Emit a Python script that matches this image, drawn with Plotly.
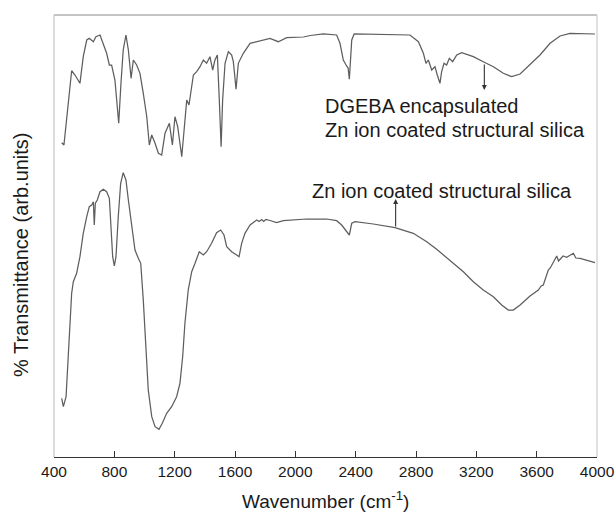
import plotly.graph_objects as go

# DGEBA encapsulated Zn ion coated structural silica (upper spectrum)
wn_top = [451, 466, 517, 539, 572, 594, 617, 634, 661, 678, 705, 727, 749, 767, 782, 804, 829, 844,
          859, 877, 893, 911, 926, 948, 970, 992, 1015, 1032, 1048, 1070, 1092, 1114, 1136, 1165,
          1185, 1202, 1220, 1247, 1262, 1280, 1295, 1324, 1346, 1368, 1390, 1412, 1434, 1452, 1467,
          1483, 1496, 1508, 1518, 1534, 1556, 1578, 1589, 1607, 1622, 1655, 1700, 1766, 1832, 1887,
          1943, 2053, 2100, 2186, 2274, 2296, 2318, 2340, 2350, 2358, 2366, 2374, 2390, 2583, 2760,
          2816, 2849, 2866, 2882, 2904, 2926, 2941, 2959, 2970, 2986, 3003, 3021, 3043, 3070, 3103,
          3180, 3246, 3313, 3379, 3434, 3490, 3556, 3622, 3689, 3755, 3821, 3910, 3987]
t_top = [314.3, 312, 386.3, 382, 373.7, 400.3, 417, 418.7, 415.3, 420.3, 422, 412, 403.7, 392, 392,
         377, 333.7, 373.7, 407, 422, 407, 378.7, 397, 392, 383.7, 363.7, 340.3, 312, 322, 313.7,
         303.7, 302, 323.7, 333.7, 312, 340.3, 330.3, 300.3, 330.3, 357, 352, 382, 385.3, 390.3,
         397, 393.7, 400.3, 387, 397, 402, 357, 310.3, 357, 393.7, 405.3, 402, 395.3, 367.7, 393.7,
         403.7, 413.7, 416.3, 418.7, 415.3, 419.3, 420, 421.5, 423, 422, 413.7, 397, 391, 389,
         377.7, 397, 417, 423, 422.7, 422, 415.3, 403.7, 393.7, 397, 387, 390.3, 382, 373.7, 385.3,
         393.7, 392, 398.7, 395.3, 402, 404.3, 400.3, 395.3, 390.3, 383.7, 380.3, 383, 392, 402,
         413.7, 421, 423.7, 423, 423]

# Zn ion coated structural silica (lower spectrum)
wn_bot = [451, 462, 480, 495, 517, 528, 550, 572, 594, 617, 634, 650, 661, 667, 674, 687, 705, 727,
          749, 767, 776, 789, 800, 811, 826, 842, 859, 877, 893, 915, 937, 959, 975, 992, 1010, 1025,
          1048, 1070, 1096, 1118, 1147, 1180, 1213, 1235, 1253, 1268, 1290, 1313, 1335, 1363, 1390,
          1412, 1445, 1478, 1505, 1527, 1545, 1578, 1611, 1627, 1644, 1666, 1700, 1744, 1760, 1777,
          1790, 1805, 1832, 1876, 1920, 2075, 2208, 2274, 2307, 2340, 2358, 2374, 2396, 2517, 2661,
          2782, 2871, 2937, 3025, 3114, 3180, 3246, 3313, 3368, 3412, 3445, 3490, 3556, 3611, 3630,
          3644, 3660, 3677, 3690, 3710, 3733, 3745, 3755, 3775, 3799, 3820, 3843, 3860, 3888, 3987]
t_bot = [58.7, 50.3, 60.3, 107, 163.7, 175.3, 183.7, 200.3, 223.7, 240.3, 250.3, 252, 255.3, 232,
         253.7, 257, 265.3, 267.7, 265.3, 258.7, 233.7, 200.3, 191, 200.3, 240.3, 273.7, 284.3, 277,
         257, 230.3, 207, 198.7, 193.7, 157, 107, 67, 40.3, 30.3, 27.7, 33.7, 43.7, 50.3, 60.3, 73.7,
         100.3, 133.7, 167, 185.3, 193.7, 205.3, 202, 205.3, 213.7, 224.3, 227, 222, 210.3, 205.3,
         202, 200.3, 213.7, 223.7, 232, 237, 235.5, 237.5, 235.5, 237.5, 236.5, 234.3, 236.3, 238,
         238, 236.3, 232, 225.3, 222, 233.7, 235.3, 233, 229.3, 223.7, 215.3, 207.7, 197, 185.3,
         175.3, 167, 160.3, 152, 147, 147, 152, 161, 167, 171, 172, 180, 187, 189, 195.3, 201, 196,
         197.7, 201, 199.7, 202, 203.7, 199, 198.7, 194.3]

x_ticks = [400, 800, 1200, 1600, 2000, 2400, 2800, 3200, 3600, 4000]

label_top_1 = "DGEBA encapsulated"
label_top_2 = "Zn ion coated structural silica"
label_bot = "Zn ion coated structural silica"

line_style = dict(color="#5e5e5e", width=1.25)
fig = go.Figure()
fig.add_trace(go.Scatter(x=wn_top, y=t_top, mode="lines", line=line_style, showlegend=False))
fig.add_trace(go.Scatter(x=wn_bot, y=t_bot, mode="lines", line=line_style, showlegend=False))

font = "Liberation Sans, Arial, sans-serif"
ann_font = dict(family=font, size=20, color="#1a1a1a")

annotations = [
    # arrows
    dict(x=3253, y=367, ax=3253, ay=394, xref="x", yref="y", axref="x", ayref="y",
         showarrow=True, arrowhead=2, arrowsize=0.9, arrowwidth=1.1, arrowcolor="#333", text=""),
    dict(x=2665, y=258, ax=2665, ay=229, xref="x", yref="y", axref="x", ayref="y",
         showarrow=True, arrowhead=2, arrowsize=0.9, arrowwidth=1.1, arrowcolor="#333", text=""),
    dict(x=2184, y=351, xref="x", yref="y", text=label_top_1, showarrow=False,
         xanchor="left", yanchor="middle", font=ann_font),
    dict(x=2184, y=327, xref="x", yref="y", text=label_top_2, showarrow=False,
         xanchor="left", yanchor="middle", font=ann_font),
    dict(x=2097, y=266, xref="x", yref="y", text=label_bot, showarrow=False,
         xanchor="left", yanchor="middle", font=ann_font),
    # axis titles
    dict(x=0.5, y=-0.097, xref="paper", yref="paper", text="Wavenumber (cm<sup>-1</sup>)",
         showarrow=False, xanchor="center", yanchor="middle",
         font=dict(family=font, size=19, color="#1a1a1a")),
    dict(x=-0.061, y=0.459, xref="paper", yref="paper", text="% Transmittance (arb.units)",
         showarrow=False, textangle=-90, xanchor="center", yanchor="middle",
         font=dict(family=font, size=20, color="#1a1a1a")),
]

shapes = [
    dict(type="line", xref="paper", yref="paper", x0=0, x1=1, y0=1, y1=1,
         line=dict(color="#8a8a8a", width=1.2)),
    dict(type="line", xref="paper", yref="paper", x0=1, x1=1, y0=0, y1=1,
         line=dict(color="#cccccc", width=1.2)),
    dict(type="line", xref="paper", yref="paper", x0=0, x1=0, y0=0, y1=1,
         line=dict(color="#c4c4c4", width=1.2)),
]

fig.update_layout(
    width=615, height=516, autosize=False,
    margin=dict(l=54, r=18, t=15, b=59, autoexpand=False),
    paper_bgcolor="white", plot_bgcolor="white",
    annotations=annotations, shapes=shapes,
    xaxis=dict(range=[400, 4000], tickvals=x_ticks, ticktext=[str(v) for v in x_ticks],
               ticks="inside", ticklen=6, tickcolor="#333", tickwidth=1.2, automargin=False,
               showline=True, linecolor="#333", linewidth=1.3, showgrid=False, zeroline=False,
               tickfont=dict(family=font, size=15.5, color="#1a1a1a")),
    yaxis=dict(range=[0, 442], showticklabels=False, ticks="", showgrid=False, zeroline=False,
               showline=False, automargin=False),
)

fig.write_html(
    "out.html",
    config={"displayModeBar": False, "responsive": False},
    post_script=("document.body.style.margin='0';document.body.style.overflow='hidden';"
                 "Plotly.relayout('{plot_id}', {width: 615, height: 516});"),
)
